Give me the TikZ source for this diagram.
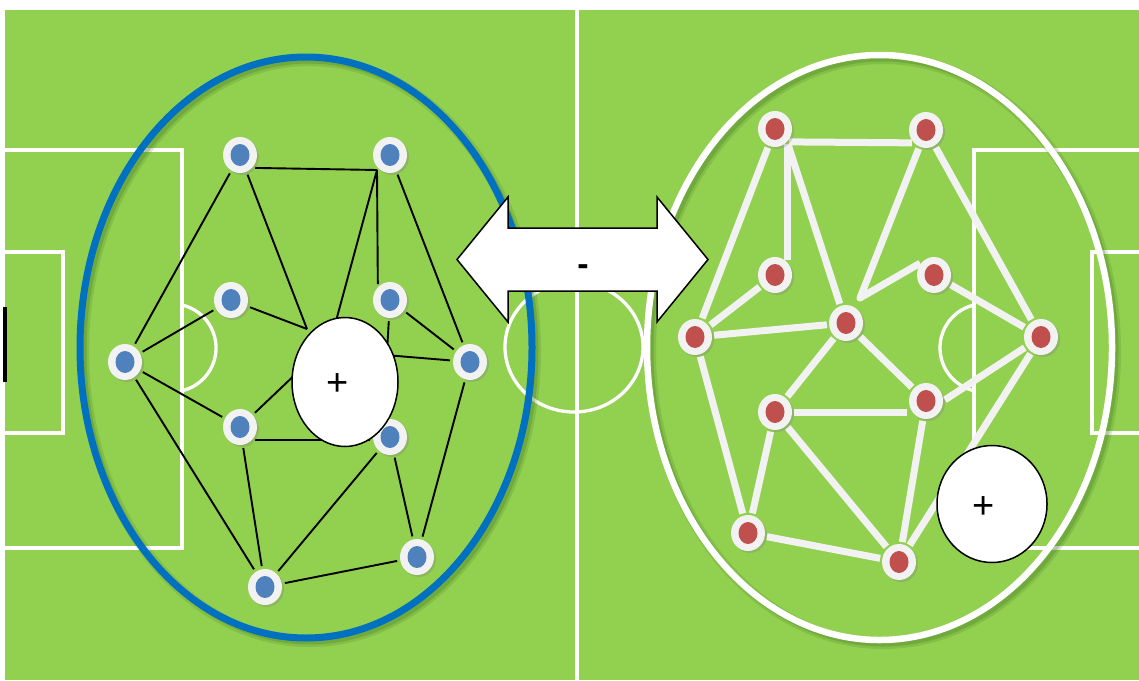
\documentclass[tikz,border=0pt]{standalone}
\usepackage{fontspec}
\setmainfont{Liberation Sans}
\usetikzlibrary{shapes.geometric,shadows,calc}
\definecolor{fieldgreen}{HTML}{92D050}
\definecolor{teamblue}{HTML}{0070C0}
\definecolor{nodegray}{HTML}{F2F2F2}
\definecolor{blueinner}{HTML}{4F81BD}
\definecolor{redinner}{HTML}{C0504D}
\definecolor{shadowgreen}{HTML}{3F6F1F}
\pgfdeclarelayer{bg}
\pgfdeclarelayer{edgelayer}
\pgfdeclarelayer{front}
\pgfsetlayers{bg,edgelayer,main,front}
\begin{document}
\begin{tikzpicture}[x=1pt, y=-1pt,
  fieldline/.style={white, line width=3.3pt},
  ledge/.style={black, line width=1.9pt, shorten <=3pt, shorten >=3pt},
  redge/.style={nodegray, line width=7pt, shorten <=2pt, shorten >=2pt, line join=round},
  player/.style={ellipse, minimum width=34pt, minimum height=36pt, inner sep=0pt, fill=nodegray,
    drop shadow={shadow xshift=2pt, shadow yshift=-2pt, opacity=0.3}},
  bp/.style={player, path picture={\fill[blueinner] (path picture bounding box.center) ellipse [x radius=9.5pt, y radius=11pt];}},
  rp/.style={player, path picture={\fill[redinner] (path picture bounding box.center) ellipse [x radius=9.5pt, y radius=11pt];}},
  plusball/.style={ellipse, draw=black, line width=1.5pt, fill=white, inner sep=0pt},
  plustext/.style={font=\fontsize{38}{40}\selectfont, inner sep=0pt},
  minustext/.style={font=\bfseries\fontsize{34}{36}\selectfont, inner sep=0pt},
  arrowshape/.style={draw=black, line width=1.5pt, fill=white, line join=miter}
]
\useasboundingbox (0,0) rectangle (1139,680);
\begin{pgfonlayer}{bg}
  \fill[white] (0,0) rectangle (1139,680);
  \fill[fieldgreen] (5,10) rectangle (1139,680);
  \draw[white, line width=4pt] (577,10) -- (577,680);
  \draw[fieldline] (574,347) ellipse [x radius=69, y radius=65];
  \draw[fieldline] (5,150) -- (182,150) -- (182,548) -- (5,548);
  \draw[fieldline] (5,252) -- (63,252) -- (63,433) -- (5,433);
  \draw[fieldline] (182,305) arc[start angle=-76.9, end angle=76.9, radius=44];
  \draw[fieldline] (1139,150) -- (974,150) -- (974,548) -- (1139,548);
  \draw[fieldline] (1139,252) -- (1092,252) -- (1092,433) -- (1139,433);
  \draw[fieldline] (974,305) arc[start angle=256.9, end angle=103.1, radius=44];
  \fill[black] (3,307) rectangle (7,382);
  % shadows of the team ellipses
  \draw[shadowgreen, opacity=0.18, line width=11pt] (309.5,351) ellipse [x radius=226, y radius=290.5];
  \draw[shadowgreen, opacity=0.25, line width=6pt] (309.5,351) ellipse [x radius=226, y radius=290.5];
  \draw[shadowgreen, opacity=0.18, line width=11pt] (883,351) ellipse [x radius=232.5, y radius=292.5];
  \draw[shadowgreen, opacity=0.25, line width=6pt] (883,351) ellipse [x radius=232.5, y radius=292.5];
  \draw[teamblue, line width=7pt] (306,347.5) ellipse [x radius=226, y radius=290.5];
  \draw[white, line width=6.5pt] (879.5,347.5) ellipse [x radius=232.5, y radius=292.5];
\end{pgfonlayer}

% blue team
\node[bp] (B1) at (240,155) {};
\node[bp] (B2) at (390,155) {};
\node[bp] (B3) at (231,300) {};
\node[bp] (B4) at (390,300) {};
\node[bp] (B5) at (125,362) {};
\node[bp] (B6) at (470,362) {};
\node[bp] (B7) at (240,427) {};
\node[bp] (B8) at (390,437) {};
\node[bp] (B9) at (265,587) {};
\node[bp] (B10) at (417,557) {};
% red team
\node[rp] (R1) at (775,129) {};
\node[rp] (R2) at (926,130) {};
\node[rp] (R3) at (775,275) {};
\node[rp] (R4) at (934,275) {};
\node[rp] (R5) at (695,337) {};
\node[rp] (R6) at (846,323) {};
\node[rp] (R7) at (1041,337) {};
\node[rp] (R8) at (775,412) {};
\node[rp] (R9) at (926,401) {};
\node[rp] (R10) at (748,533) {};
\node[rp] (R11) at (899,562) {};

\coordinate (pA) at (377,170);
\coordinate (pB) at (307,329);
\coordinate (pC) at (333,332);
\coordinate (pD) at (387,352);
\coordinate (pE) at (385,355);
\coordinate (pF) at (302,368);
\coordinate (pV) at (860,298);

\begin{pgfonlayer}{edgelayer}
  \draw[ledge] (B1) -- (B5);
  \draw[ledge, shorten >=0pt] (B1) -- (pB);
  \draw[ledge, shorten >=0pt] (B3) -- (pB);
  \draw[ledge, shorten >=0pt] (B1.south east) -- (pA);
  \draw[ledge, shorten <=0pt] (pA) -- (B4.north west);
  \draw[ledge, shorten <=0pt] (pA) -- (pC);
  \draw[ledge] (B2) -- (B6);
  \draw[ledge] (B3) -- (B5);
  \draw[ledge] (B4) -- (B6);
  \draw[ledge] (B4) -- (pD);
  \draw[ledge] (pE) -- (B6);
  \draw[ledge] (B5) -- (B7);
  \draw[ledge] (B7) -- (pF);
  \draw[ledge] (B5) -- (B9);
  \draw[ledge] (B6) -- (B10);
  \draw[ledge] (B7.south east) -- (B7.south east -| B8.west);
  \draw[ledge] (B7) -- (B9);
  \draw[ledge] (B8) -- (B9);
  \draw[ledge] (B8) -- (B10);
  \draw[ledge] (B9) -- (B10);

  \draw[redge] (R1) -- (R5);
  \draw[redge] (R1.south east) -- (R2.south west);
  \draw[redge] (R1.south east) -- (R3.north east);
  \draw[redge] (R1.south east) -- (R6);
  \draw[redge] (R2) -- (pV) -- (R4.north west);
  \draw[redge] (R2) -- (R7);
  \draw[redge] (R3) -- (R5);
  \draw[redge] (R5) -- (R6);
  \draw[redge] (R4) -- (R7);
  \draw[redge] (R6) -- (R8);
  \draw[redge] (R6) -- (R9);
  \draw[redge] (R9.east) -- (R7);
  \draw[redge] (R7) -- (R11);
  \draw[redge] (R5) -- (R10);
  \draw[redge] (R8) -- (R8 -| R9.west);
  \draw[redge] (R8) -- (R10);
  \draw[redge] (R8) -- (R11);
  \draw[redge] (R9) -- (R11);
  \draw[redge] (R10) -- (R11);
\end{pgfonlayer}

\begin{pgfonlayer}{front}
  \node[plusball, minimum width=106pt, minimum height=129pt] (LB) at (345,382) {};
  \node[plustext] (LT) at (338,385) {+};
  \node[plusball, minimum width=110pt, minimum height=117pt] (RB) at (992,504) {};
  \node[plustext] (RT) at (984,508) {+};
  \draw[arrowshape] (457,259.5) -- (508,197) -- (508,228) -- (657,228) -- (657,197) -- (708,259.5)
     -- (657,322) -- (657,291) -- (508,291) -- (508,322) -- cycle;
  \node[minustext] (MT) at (583,270) {-};
\end{pgfonlayer}
\end{tikzpicture}
\end{document}
